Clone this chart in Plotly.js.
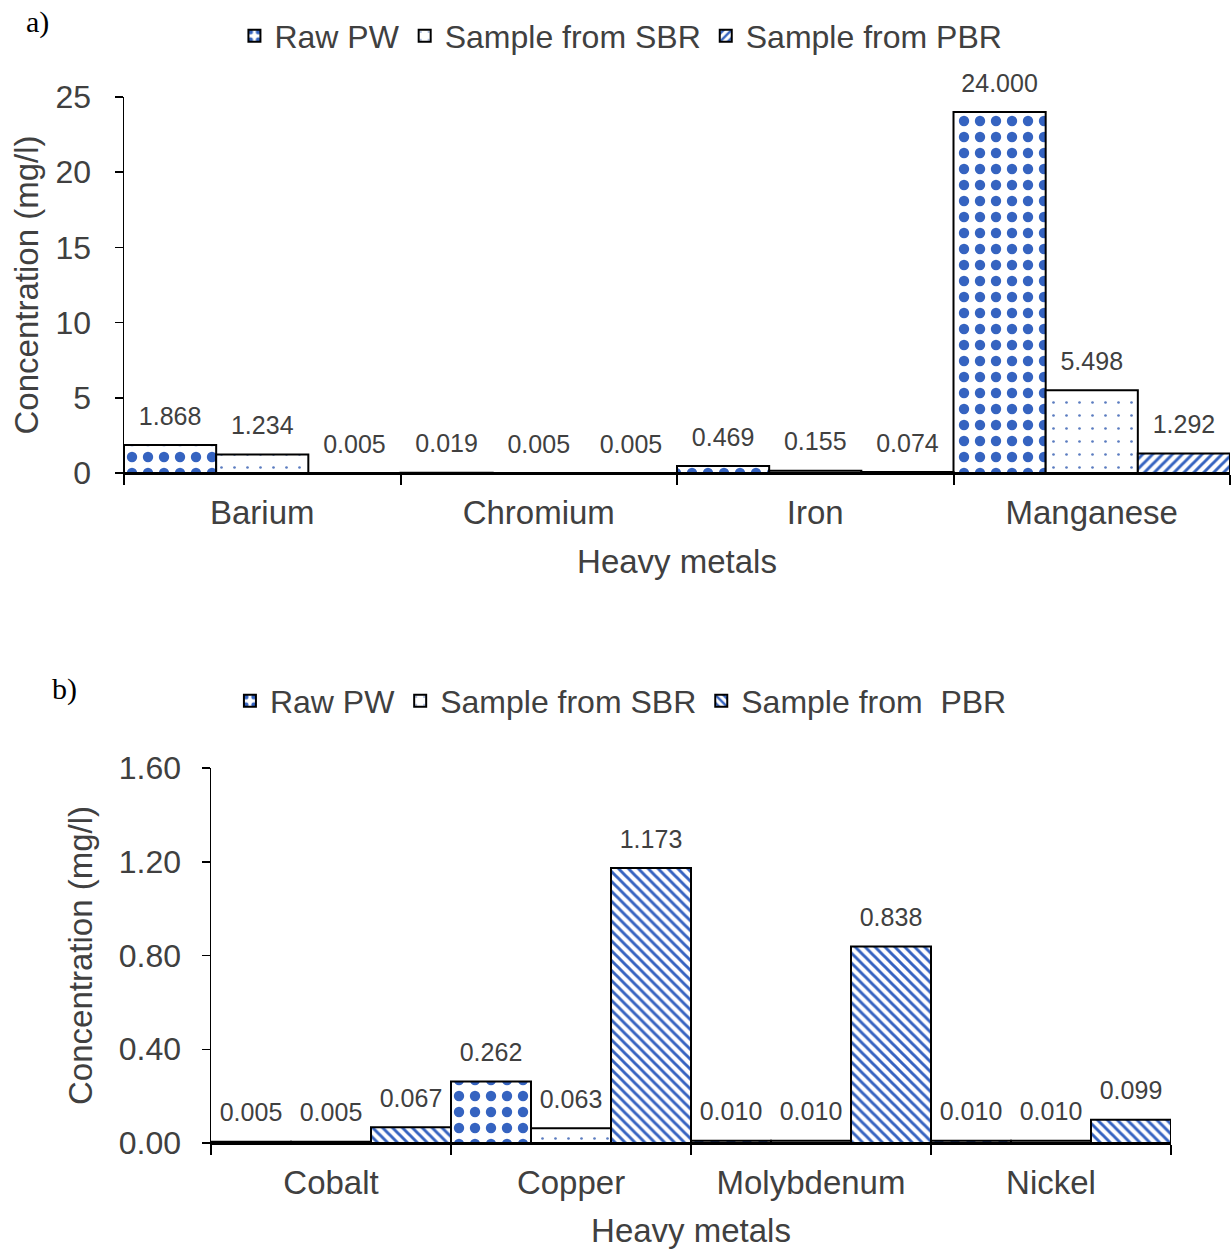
<!DOCTYPE html>
<html>
<head>
<meta charset="utf-8">
<script src="https://cdn.plot.ly/plotly-3.0.1.min.js"></script>
<style>
  html, body { margin: 0; padding: 0; background: #ffffff; }
  #chartA, #chartB { width: 1232px; height: 625px; }
</style>
</head>
<body>
<div id="chartA"></div>
<div id="chartB"></div>
<script>
// ---------- Data: panel a ----------
const metalsA = ["Barium", "Chromium", "Iron", "Manganese"];
const rawPW_A = [1.868, 0.019, 0.469, 24.000];
const sbr_A   = [1.234, 0.005, 0.155, 5.498];
const pbr_A   = [0.005, 0.005, 0.074, 1.292];
const seriesNamesA = ["Raw PW", "Sample from SBR", "Sample from PBR"];
const yTicksA = [0, 5, 10, 15, 20, 25];

// ---------- Data: panel b ----------
const metalsB = ["Cobalt", "Copper", "Molybdenum", "Nickel"];
const rawPW_B = [0.005, 0.262, 0.010, 0.010];
const sbr_B   = [0.005, 0.063, 0.010, 0.010];
const pbr_B   = [0.067, 1.173, 0.838, 0.099];
const seriesNamesB = ["Raw PW", "Sample from SBR", "Sample from\u00a0 PBR"];
const yTicksB = [0, 0.4, 0.8, 1.2, 1.6];

const FONT = "Liberation Sans, Arial, sans-serif";
const TXT = "#404040";
const BLUE = "#3563c0";

const patRaw = {shape: ".", fgcolor: BLUE, bgcolor: "#ffffff", fgopacity: 1, size: 16, solidity: 0.33, fillmode: "replace"};
const patSBR = {shape: ".", fgcolor: "#5b7cc0", bgcolor: "#ffffff", fgopacity: 1, size: 13, solidity: 0.035, fillmode: "replace"};
const patPBR_A = {shape: "/", fgcolor: BLUE, bgcolor: "#ffffff", fgopacity: 1, size: 7, solidity: 0.42, fillmode: "replace"};
const patPBR_B = {shape: "\\", fgcolor: BLUE, bgcolor: "#ffffff", fgopacity: 1, size: 7, solidity: 0.42, fillmode: "replace"};

function barTrace(name, cats, vals, pat, grp) {
  return {
    type: "bar", name: name, x: cats, y: vals, offsetgroup: grp,
    marker: {color: "#ffffff", pattern: pat, line: {color: "#000000", width: 2}},
    hoverinfo: "x+y"
  };
}
function labelTrace(cats, vals, grp) {
  return {
    type: "scatter", mode: "markers+text", x: cats, y: vals, offsetgroup: grp,
    text: vals.map(v => v.toFixed(3)), textposition: "top center",
    textfont: {family: FONT, size: 25, color: TXT},
    marker: {size: 21, color: "rgba(0,0,0,0)"},
    showlegend: false, hoverinfo: "skip", cliponaxis: false
  };
}

function makeLayout(o) {
  return {
    width: 1232, height: 625,
    margin: {l: o.ml, r: o.mr, t: o.mt, b: o.mb},
    paper_bgcolor: "#ffffff", plot_bgcolor: "#ffffff",
    font: {family: FONT, color: TXT},
    barmode: "group", bargap: 0, bargroupgap: 0,
    scattermode: "group", scattergap: 0,
    showlegend: true,
    legend: {
      orientation: "h", xref: "container", yref: "container",
      x: 0.504, xanchor: "center", y: o.legendY, yanchor: "middle",
      font: {family: FONT, size: 32, color: TXT},
      itemwidth: 30, traceorder: "normal", itemclick: false
    },
    xaxis: {
      type: "category", showline: true, linecolor: "#000000", linewidth: 2,
      ticks: "outside", tickson: "boundaries", ticklen: 10, tickwidth: 2, tickcolor: "#000000",
      tickfont: {family: FONT, size: 33, color: TXT}, ticklabelstandoff: 9,
      title: {text: "Heavy metals", font: {family: FONT, size: 33, color: TXT}, standoff: o.xStandoff},
      showgrid: false, zeroline: false, fixedrange: true
    },
    yaxis: {
      range: o.yrange, tickvals: o.yticks, tickformat: o.yfmt,
      showline: true, linecolor: "#000000", linewidth: 1.5,
      ticks: "outside", ticklen: 8, tickwidth: 1.5, tickcolor: "#000000",
      tickfont: {family: FONT, size: 32, color: TXT}, ticklabelstandoff: o.yLabStandoff,
      title: {text: "Concentration (mg/l)", font: {family: FONT, size: 33, color: TXT}, standoff: o.yStandoff},
      showgrid: false, zeroline: false, fixedrange: true
    },
    annotations: [{
      text: o.panelLabel, xref: "paper", yref: "paper", showarrow: false,
      x: o.labelX, y: o.labelY, xanchor: "left", yanchor: "middle",
      font: {family: "Liberation Serif, Times New Roman, serif", size: 30, color: "#000000"}
    }]
  };
}

const dataA = [
  barTrace(seriesNamesA[0], metalsA, rawPW_A, patRaw, "g1"),
  barTrace(seriesNamesA[1], metalsA, sbr_A, patSBR, "g2"),
  barTrace(seriesNamesA[2], metalsA, pbr_A, patPBR_A, "g3"),
  labelTrace(metalsA, rawPW_A, "g1"),
  labelTrace(metalsA, sbr_A, "g2"),
  labelTrace(metalsA, pbr_A, "g3")
];
const dataB = [
  barTrace(seriesNamesB[0], metalsB, rawPW_B, patRaw, "g1"),
  barTrace(seriesNamesB[1], metalsB, sbr_B, patSBR, "g2"),
  barTrace(seriesNamesB[2], metalsB, pbr_B, patPBR_B, "g3"),
  labelTrace(metalsB, rawPW_B, "g1"),
  labelTrace(metalsB, sbr_B, "g2"),
  labelTrace(metalsB, pbr_B, "g3")
];

// panel a: plot area x 124..1230, y 97..473
const layoutA = makeLayout({ml: 124, mr: 2, mt: 97, mb: 152, yrange: [0, 25], yticks: yTicksA, yfmt: "d",
  legendY: 1 - 36/625, panelLabel: "a)", labelX: -0.09, labelY: 1.2,
  xStandoff: 20, yLabStandoff: 17, yStandoff: 7});
// panel b: plot area x 211..1171, y 768..1143 (div starts at 625)
const layoutB = makeLayout({ml: 211, mr: 61, mt: 143, mb: 107, yrange: [0, 1.6], yticks: yTicksB, yfmt: ".2f",
  legendY: 1 - 76/625, panelLabel: "b)", labelX: -0.168, labelY: 1.21,
  xStandoff: 19, yLabStandoff: 14, yStandoff: 16});

const config = {staticPlot: true, displayModeBar: false};
Plotly.newPlot("chartA", dataA, layoutA, config);
Plotly.newPlot("chartB", dataB, layoutB, config);
</script>
</body>
</html>
